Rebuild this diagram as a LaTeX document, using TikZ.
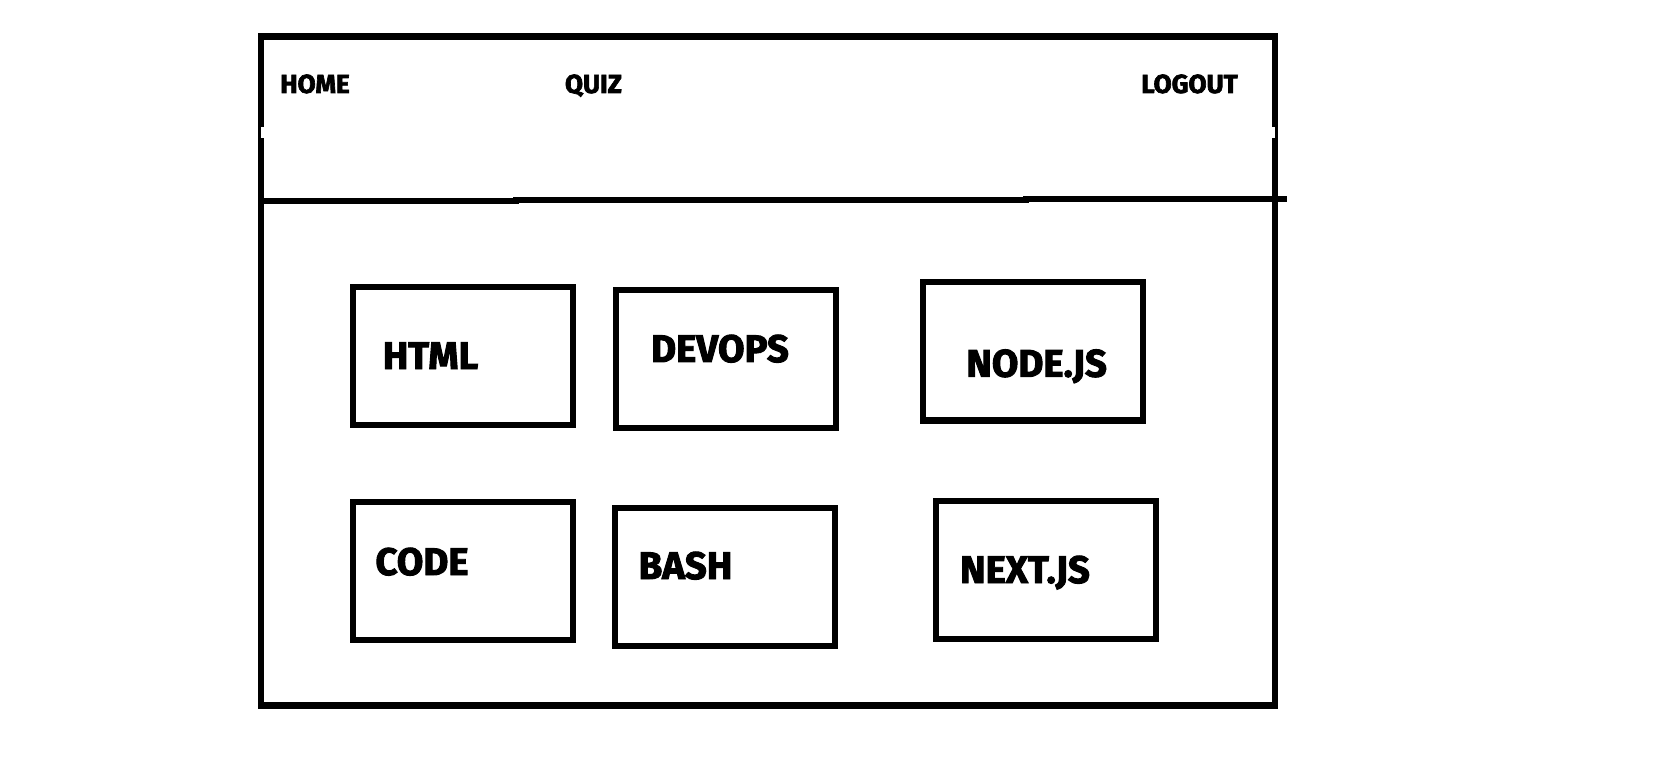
\documentclass[tikz,border=0pt]{standalone}
\usepackage{fontspec}
\setmainfont{Fira Sans}[BoldFeatures={FakeBold=2.5}]
\begin{document}
\begin{tikzpicture}[x=0.75pt,y=-0.75pt,
  frame/.style={draw, line width=4.6pt, inner sep=0pt, outer sep=0pt,
    minimum width=760.5pt, minimum height=501.75pt},
  sepline/.style={line width=4.2pt},
  card/.style={draw, line width=4.5pt, inner sep=0pt, outer sep=0pt,
    minimum width=165pt, minimum height=103.5pt},
  nav/.style={font=\fontsize{19.6}{21}\selectfont\bfseries, inner sep=0pt, anchor=base},
  lbl/.style={font=\fontsize{28.8}{31}\selectfont\bfseries, inner sep=0pt, anchor=base}]
\useasboundingbox[fill=white] (0,0) rectangle (1661,759);
% outer window frame
\node[frame] (win) at (768,371) {};
\fill[white] (261,127) rectangle (264.5,138);
\fill[white] (1272,127) rectangle (1275,138);
% header separator
\coordinate (hl) at (261,201);
\coordinate (hr) at (1287,199);
\draw[sepline] (hl) -- (516,201) -- (516,200) -- (1026,200) -- (1026,199) -- (hr);
% navigation
\node[nav] (home) at (315,93) {HOME};
\node[nav] (quiz) at (593.5,93) {QUIZ};
\node[nav] (logout) at (1189.5,93) {LOGOUT};
% cards
\node[card] (html) at (463,356.2) {};
\node[card] (devops) at (726.25,359) {};
\node[card] (nodejs) at (1033,351.5) {};
\node[card] (code) at (463,570.75) {};
\node[card] (bash) at (725.25,576.5) {};
\node[card] (nextjs) at (1045.75,570) {};
% card labels
\node[lbl] (thtml) at (430.5,369) {HTML};
\node[lbl] (tdevops) at (720,362) {DEVOPS};
\node[lbl] (tnodejs) at (1036.7,376.7) {NODE.JS};
\node[lbl] (tcode) at (422,575) {CODE};
\node[lbl] (tbash) at (685.5,579) {BASH};
\node[lbl] (tnextjs) at (1025,583) {NEXT.JS};
\end{tikzpicture}
\end{document}
